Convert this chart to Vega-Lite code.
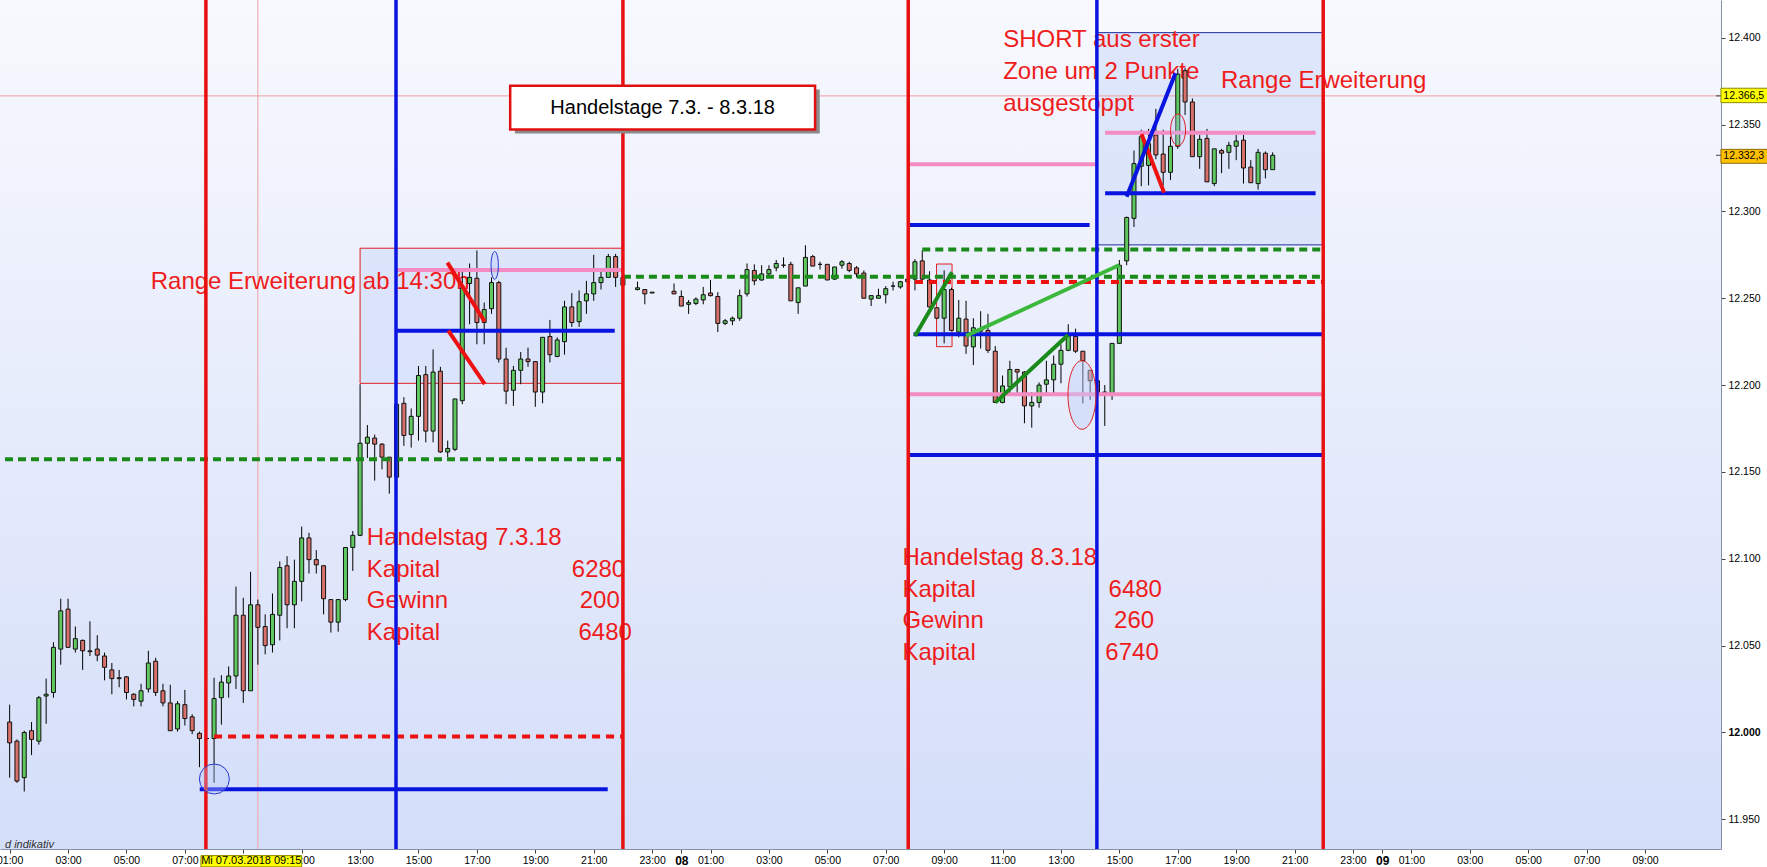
{
"$schema":"https://vega.github.io/schema/vega-lite/v6.json",
"width":1721,"height":849,
"autosize":{"type":"none"},
"padding":{"left":0,"top":0,"right":46,"bottom":18},
"background":"#ffffff",
"config":{"view":{"stroke":null,"fill":{"gradient":"linear","x1":0,"y1":0,"x2":0,"y2":1,"stops":[{"offset":0,"color":"#f8f9fe"},{"offset":1,"color":"#d4def9"}]}},"font":"Liberation Sans","axis":{"grid":false,"tickSize":4,"tickColor":"#404040","domainColor":"#8592a6","labelColor":"#000000","labelFont":"Liberation Sans","labelPadding":3}},
"datasets":{
"candles":[
{"t":1,"o":12006,"h":12016,"l":11974,"c":11994},
{"t":1.25,"o":11995,"h":11996,"l":11971,"c":11972},
{"t":1.5,"o":11974,"h":12001,"l":11966,"c":12000},
{"t":1.75,"o":12001,"h":12006,"l":11987,"c":11996},
{"t":2,"o":11995,"h":12021,"l":11993,"c":12020},
{"t":2.25,"o":12021,"h":12031,"l":12005,"c":12022},
{"t":2.5,"o":12023,"h":12052,"l":12020,"c":12049},
{"t":2.75,"o":12048,"h":12077,"l":12039,"c":12070},
{"t":3,"o":12071,"h":12077,"l":12049,"c":12049},
{"t":3.25,"o":12048,"h":12061,"l":12046,"c":12054},
{"t":3.5,"o":12053,"h":12053.5,"l":12036,"c":12047},
{"t":3.75,"o":12047,"h":12064,"l":12044,"c":12046.5},
{"t":4,"o":12048,"h":12056,"l":12041,"c":12044.5},
{"t":4.25,"o":12044,"h":12046,"l":12030,"c":12037.5},
{"t":4.5,"o":12036,"h":12040,"l":12022,"c":12031},
{"t":4.75,"o":12031.5,"h":12036,"l":12026,"c":12031},
{"t":5,"o":12032,"h":12032.5,"l":12019,"c":12023},
{"t":5.25,"o":12022,"h":12022.5,"l":12015,"c":12019},
{"t":5.5,"o":12018,"h":12028,"l":12015,"c":12024},
{"t":5.75,"o":12025,"h":12047,"l":12023,"c":12040},
{"t":6,"o":12041,"h":12043,"l":12021,"c":12023},
{"t":6.25,"o":12024,"h":12028,"l":12015,"c":12017},
{"t":6.5,"o":12017,"h":12027.5,"l":12001,"c":12001},
{"t":6.75,"o":12002,"h":12018,"l":12000.5,"c":12016.5},
{"t":7,"o":12016,"h":12024.5,"l":12004,"c":12008},
{"t":7.25,"o":12009,"h":12010.5,"l":11999,"c":12001},
{"t":7.5,"o":11999.5,"h":12000.5,"l":11980,"c":11996.5},
{"t":7.75,"o":11996.5,"h":11997,"l":11996,"c":11996.5},
{"t":8,"o":11996.5,"h":12031.5,"l":11971,"c":12019.5},
{"t":8.25,"o":12020,"h":12033,"l":12004.5,"c":12029},
{"t":8.5,"o":12028.5,"h":12038,"l":12020,"c":12032.5},
{"t":8.75,"o":12032.5,"h":12084,"l":12025,"c":12067.5},
{"t":9,"o":12067.5,"h":12077.5,"l":12017,"c":12024},
{"t":9.25,"o":12024,"h":12092.5,"l":12024,"c":12073.5},
{"t":9.5,"o":12073.5,"h":12076.5,"l":12039,"c":12060.5},
{"t":9.75,"o":12061,"h":12068,"l":12045,"c":12050},
{"t":10,"o":12050.5,"h":12080,"l":12046,"c":12068},
{"t":10.25,"o":12067.5,"h":12098.5,"l":12053,"c":12095},
{"t":10.5,"o":12096,"h":12101.5,"l":12060,"c":12073.5},
{"t":10.75,"o":12073.5,"h":12099.5,"l":12060,"c":12087},
{"t":11,"o":12087,"h":12118.5,"l":12075.5,"c":12112},
{"t":11.25,"o":12112,"h":12115,"l":12091.5,"c":12099.5},
{"t":11.5,"o":12099.5,"h":12105,"l":12091.5,"c":12096.5},
{"t":11.75,"o":12096,"h":12096,"l":12068,"c":12077},
{"t":12,"o":12076.5,"h":12076.5,"l":12057.5,"c":12063.5},
{"t":12.25,"o":12063.5,"h":12076.5,"l":12058,"c":12076.5},
{"t":12.5,"o":12076.5,"h":12106.5,"l":12075.5,"c":12106.5},
{"t":12.75,"o":12106.5,"h":12116,"l":12093,"c":12113.5},
{"t":13,"o":12113.5,"h":12200.5,"l":12113,"c":12166.5},
{"t":13.25,"o":12166.5,"h":12177,"l":12158,"c":12170},
{"t":13.5,"o":12169.5,"h":12171.5,"l":12145,"c":12166},
{"t":13.75,"o":12166,"h":12166.5,"l":12151.5,"c":12158.5},
{"t":14,"o":12158.5,"h":12158.5,"l":12137.5,"c":12147},
{"t":14.25,"o":12147,"h":12189,"l":12146,"c":12189},
{"t":14.5,"o":12189.5,"h":12193,"l":12165,"c":12171},
{"t":14.75,"o":12171.5,"h":12186.5,"l":12164,"c":12182},
{"t":15,"o":12182,"h":12211,"l":12168,"c":12205.5},
{"t":15.25,"o":12206,"h":12211,"l":12167,"c":12173.5},
{"t":15.5,"o":12173.5,"h":12220.5,"l":12167,"c":12207.5},
{"t":15.75,"o":12208,"h":12210.5,"l":12161,"c":12161.5},
{"t":16,"o":12161.5,"h":12168,"l":12158.5,"c":12163.5},
{"t":16.25,"o":12163,"h":12192,"l":12162,"c":12192},
{"t":16.5,"o":12191,"h":12266,"l":12189,"c":12256},
{"t":16.75,"o":12258.5,"h":12270,"l":12235,"c":12262},
{"t":17,"o":12261.5,"h":12277.5,"l":12223.5,"c":12236},
{"t":17.25,"o":12236,"h":12247.5,"l":12223.5,"c":12243.5},
{"t":17.5,"o":12244,"h":12262,"l":12241,"c":12259},
{"t":17.75,"o":12259,"h":12260,"l":12213,"c":12215},
{"t":18,"o":12215,"h":12221.5,"l":12189,"c":12196.5},
{"t":18.25,"o":12197,"h":12211,"l":12188,"c":12208.5},
{"t":18.5,"o":12208.5,"h":12219,"l":12200.5,"c":12215},
{"t":18.75,"o":12215,"h":12221.5,"l":12210.5,"c":12213.5},
{"t":19,"o":12213.5,"h":12213.5,"l":12187.5,"c":12196},
{"t":19.25,"o":12196,"h":12227.5,"l":12189.5,"c":12227.5},
{"t":19.5,"o":12228,"h":12237.5,"l":12213,"c":12217.5},
{"t":19.75,"o":12216.5,"h":12227.5,"l":12216,"c":12226},
{"t":20,"o":12225,"h":12248.5,"l":12217.5,"c":12245},
{"t":20.25,"o":12245,"h":12253,"l":12233.5,"c":12236},
{"t":20.5,"o":12236.5,"h":12254.5,"l":12233.5,"c":12248},
{"t":20.75,"o":12248.5,"h":12260,"l":12241,"c":12252.5},
{"t":21,"o":12252.5,"h":12275,"l":12248.5,"c":12259},
{"t":21.25,"o":12259,"h":12266,"l":12255,"c":12262},
{"t":21.5,"o":12262,"h":12275.5,"l":12262,"c":12274},
{"t":21.75,"o":12274,"h":12275.5,"l":12256.5,"c":12262},
{"t":22,"o":12262,"h":12264,"l":12255,"c":12257.5},
{"t":22.5,"o":12255,"h":12259.5,"l":12254.5,"c":12256},
{"t":22.75,"o":12255,"h":12255,"l":12246.5,"c":12252.5},
{"t":23,"o":12253,"h":12253.5,"l":12253,"c":12253.5},
{"t":23.75,"o":12254,"h":12258.5,"l":12252.5,"c":12252.5},
{"t":24,"o":12251,"h":12254.5,"l":12245.5,"c":12245.5},
{"t":24.25,"o":12246.5,"h":12249,"l":12241,"c":12247.5},
{"t":24.5,"o":12247,"h":12250.5,"l":12246,"c":12249.5},
{"t":24.75,"o":12249,"h":12256.5,"l":12246.5,"c":12252},
{"t":25,"o":12253,"h":12260.5,"l":12251,"c":12251.5},
{"t":25.25,"o":12251,"h":12253.5,"l":12230.5,"c":12235.5},
{"t":25.5,"o":12235.5,"h":12238,"l":12234.5,"c":12237},
{"t":25.75,"o":12237,"h":12239.5,"l":12234.5,"c":12238.5},
{"t":26,"o":12238.5,"h":12255,"l":12237,"c":12251.5},
{"t":26.25,"o":12252.5,"h":12270,"l":12251,"c":12266.5},
{"t":26.5,"o":12266,"h":12269.5,"l":12257.5,"c":12260},
{"t":26.75,"o":12260.5,"h":12269,"l":12260,"c":12264},
{"t":27,"o":12264,"h":12269,"l":12263,"c":12266.5},
{"t":27.25,"o":12267.5,"h":12272,"l":12265.5,"c":12270},
{"t":27.5,"o":12269,"h":12273.5,"l":12267.5,"c":12269},
{"t":27.75,"o":12269.5,"h":12271,"l":12248.5,"c":12248.5},
{"t":28,"o":12247.5,"h":12256,"l":12241,"c":12256},
{"t":28.25,"o":12257,"h":12280.5,"l":12257,"c":12273.5},
{"t":28.5,"o":12274,"h":12275,"l":12268.5,"c":12268.5},
{"t":28.75,"o":12269.5,"h":12271,"l":12266.5,"c":12269.5},
{"t":29,"o":12269.5,"h":12269.5,"l":12260.5,"c":12260.5},
{"t":29.25,"o":12261,"h":12268,"l":12260.5,"c":12268},
{"t":29.5,"o":12269,"h":12272,"l":12267,"c":12271},
{"t":29.75,"o":12270,"h":12271,"l":12265,"c":12266},
{"t":30,"o":12267.5,"h":12268.5,"l":12262,"c":12264},
{"t":30.25,"o":12264.5,"h":12266,"l":12250,"c":12250},
{"t":30.5,"o":12249.5,"h":12251.5,"l":12245.5,"c":12251.5},
{"t":30.75,"o":12250,"h":12255.5,"l":12250,"c":12251.5},
{"t":31,"o":12252,"h":12257,"l":12247,"c":12255.5},
{"t":31.25,"o":12257,"h":12259.5,"l":12254.5,"c":12257},
{"t":31.5,"o":12256.5,"h":12260,"l":12255.5,"c":12259.5},
{"t":31.75,"o":12259.5,"h":12262,"l":12258,"c":12261},
{"t":32,"o":12261,"h":12272.5,"l":12254.5,"c":12271},
{"t":32.25,"o":12271.5,"h":12277.5,"l":12260.5,"c":12261},
{"t":32.5,"o":12260.5,"h":12265.5,"l":12244,"c":12245},
{"t":32.75,"o":12244.5,"h":12244.5,"l":12238,"c":12238.5},
{"t":33,"o":12238.5,"h":12266,"l":12224,"c":12255},
{"t":33.25,"o":12255,"h":12256,"l":12231,"c":12231.5},
{"t":33.5,"o":12230.5,"h":12249,"l":12227.5,"c":12238.5},
{"t":33.75,"o":12238,"h":12248.5,"l":12218,"c":12222.5},
{"t":34,"o":12222,"h":12238.5,"l":12211.5,"c":12233},
{"t":34.25,"o":12232,"h":12242.5,"l":12221,"c":12231},
{"t":34.5,"o":12231.5,"h":12241,"l":12218.5,"c":12220},
{"t":34.75,"o":12219.5,"h":12222.5,"l":12190,"c":12190},
{"t":35,"o":12190,"h":12205.5,"l":12189.5,"c":12199.5},
{"t":35.25,"o":12199,"h":12214,"l":12194,"c":12209},
{"t":35.5,"o":12209,"h":12209,"l":12195,"c":12207.5},
{"t":35.75,"o":12207.5,"h":12208,"l":12178,"c":12188},
{"t":36,"o":12188,"h":12196,"l":12175.5,"c":12190},
{"t":36.25,"o":12190,"h":12201.5,"l":12187,"c":12200},
{"t":36.5,"o":12200.5,"h":12214,"l":12195,"c":12203},
{"t":36.75,"o":12203,"h":12217,"l":12195,"c":12212},
{"t":37,"o":12212,"h":12223.5,"l":12201,"c":12220},
{"t":37.25,"o":12220,"h":12235,"l":12219.5,"c":12228.5},
{"t":37.5,"o":12228,"h":12232.5,"l":12218.5,"c":12219.5},
{"t":37.75,"o":12219.5,"h":12219.5,"l":12189.5,"c":12214},
{"t":38,"o":12208.5,"h":12208.5,"l":12191.5,"c":12202.5},
{"t":38.25,"o":12202.5,"h":12203,"l":12192,"c":12195.5},
{"t":38.5,"o":12196,"h":12200,"l":12176.5,"c":12194.5},
{"t":38.75,"o":12194.5,"h":12224,"l":12191.5,"c":12224},
{"t":39,"o":12224,"h":12272,"l":12224,"c":12269},
{"t":39.25,"o":12271.5,"h":12297,"l":12269,"c":12296.5},
{"t":39.5,"o":12296,"h":12335,"l":12291,"c":12327.5},
{"t":39.75,"o":12326,"h":12347,"l":12314.5,"c":12343},
{"t":40,"o":12326.5,"h":12347.5,"l":12315,"c":12339},
{"t":40.25,"o":12344,"h":12359,"l":12330,"c":12332.5},
{"t":40.5,"o":12333,"h":12347,"l":12315,"c":12322.5},
{"t":40.75,"o":12322.5,"h":12343,"l":12318,"c":12337.5},
{"t":41,"o":12337.5,"h":12382,"l":12336,"c":12379},
{"t":41.25,"o":12381,"h":12382.5,"l":12355.5,"c":12363},
{"t":41.5,"o":12363,"h":12365,"l":12331.5,"c":12331.5},
{"t":41.75,"o":12331.5,"h":12344,"l":12324.5,"c":12341.5},
{"t":42,"o":12342,"h":12347.5,"l":12317,"c":12317},
{"t":42.25,"o":12316,"h":12336,"l":12314.5,"c":12336},
{"t":42.5,"o":12335,"h":12336,"l":12322,"c":12333.5},
{"t":42.75,"o":12334,"h":12340,"l":12324.5,"c":12338},
{"t":43,"o":12337.5,"h":12344,"l":12329.5,"c":12340.5},
{"t":43.25,"o":12341,"h":12344,"l":12316,"c":12325},
{"t":43.5,"o":12325.5,"h":12329.5,"l":12316.5,"c":12316.5},
{"t":43.75,"o":12316,"h":12336,"l":12312.5,"c":12334},
{"t":44,"o":12333.5,"h":12334.5,"l":12319,"c":12324},
{"t":44.25,"o":12324,"h":12334,"l":12324,"c":12332.3}
],
"rangeRed":[{"t1":13.0,"t2":22.0,"v1":12201.0,"v2":12278.8}],
"rangeBlue":[{"t1":38.23,"t2":45.98,"v1":12280.7,"v2":12402.9}],
"smallBox":[{"t1":32.74,"t2":33.27,"v1":12222.1,"v2":12269.7}],
"redTexts":[
{"t":5.83,"v":12259.5,"s":"Range Erweiterung ab 14:30h"},
{"t":13.23,"v":12112.0,"s":"Handelstag 7.3.18"},
{"t":13.23,"v":12093.6,"s":"Kapital"},
{"t":13.23,"v":12075.5,"s":"Gewinn"},
{"t":13.23,"v":12057.1,"s":"Kapital"},
{"t":20.25,"v":12093.6,"s":"6280"},
{"t":20.52,"v":12075.5,"s":"200"},
{"t":20.48,"v":12057.1,"s":"6480"},
{"t":31.57,"v":12100.4,"s":"Handelstag 8.3.18"},
{"t":31.57,"v":12082.2,"s":"Kapital"},
{"t":31.57,"v":12064.0,"s":"Gewinn"},
{"t":31.57,"v":12045.9,"s":"Kapital"},
{"t":38.63,"v":12082.2,"s":"6480"},
{"t":38.82,"v":12064.0,"s":"260"},
{"t":38.52,"v":12045.9,"s":"6740"},
{"t":35.02,"v":12398.9,"s":"SHORT aus erster"},
{"t":35.02,"v":12380.4,"s":"Zone um 2 Punkte"},
{"t":35.02,"v":12362.1,"s":"ausgestoppt"},
{"t":42.48,"v":12375.0,"s":"Range Erweiterung"}
],
"blueH":[
{"t1":7.51,"t2":21.48,"v":11967.3},
{"t1":14.23,"t2":21.72,"v":12231.3},
{"t1":31.8,"t2":37.98,"v":12292.2},
{"t1":31.95,"t2":45.98,"v":12229.2},
{"t1":31.77,"t2":45.98,"v":12159.8},
{"t1":38.51,"t2":45.72,"v":12310.4}
],
"pinkH":[
{"t1":14.23,"t2":22.0,"v":12266.3},
{"t1":31.77,"t2":38.23,"v":12327.1},
{"t1":38.51,"t2":45.72,"v":12345.3},
{"t1":31.77,"t2":45.98,"v":12194.7}
],
"greenD":[
{"t1":0.841,"t2":22.0,"v":12157.3},
{"t1":22.0,"t2":45.98,"v":12262.4},
{"t1":32.25,"t2":45.98,"v":12278.1}
],
"redD":[
{"t1":8.0,"t2":22.0,"v":11997.6},
{"t1":32.0,"t2":45.98,"v":12259.3}
],
"redV":[{"t":7.72},{"t":22.0},{"t":31.77},{"t":45.98}],
"blueV":[{"t":14.23},{"t":38.23}],
"redDiag":[
{"t1":15.99,"t2":17.27,"v1":12270.5,"v2":12236.5},
{"t1":16.02,"t2":17.27,"v1":12231.3,"v2":12200.6},
{"t1":39.76,"t2":40.53,"v1":12344.4,"v2":12310.8}
],
"blueDiag":[{"t1":39.25,"t2":40.92,"v1":12308.4,"v2":12379.5}],
"darkGreenDiag":[
{"t1":32.0,"t2":33.27,"v1":12228.3,"v2":12264.9},
{"t1":34.75,"t2":37.24,"v1":12189.9,"v2":12228.8}
],
"lightGreenDiag":[{"t1":33.75,"t2":39.0,"v1":12228.3,"v2":12269.1}]
},
"layer":[
{"data":{"name":"rangeRed"},"mark":{"type":"rect","fill":"#d6e0f9","fillOpacity":0.75,"stroke":"#e02020","strokeWidth":1},
"encoding":{
"x":{"field":"t1","type":"quantitative","scale":{"domain":[0.841,59.43],"nice":false,"zero":false},
"axis":{"title":null,"grid":false,"orient":"bottom","values":[1,3,5,7,9,11,13,15,17,19,21,23,24,25,27,29,31,33,35,37,39,41,43,45,47,48,49,51,53,55,57],
"labelExpr":"datum.value == 24 ? '08' : datum.value == 48 ? '09' : ((datum.value % 24) < 10 ? '0' : '') + (datum.value % 24) + ':00'",
"labelFontWeight":{"condition":{"test":"datum.value == 24 || datum.value == 48","value":"bold"},"value":"normal"},
"labelFontSize":{"condition":{"test":"datum.value == 24 || datum.value == 48","value":12},"value":10.5},
"labelOverlap":false,"labelBound":false,"labelFlush":false,"labelPadding":2,"tickSize":4,"tickColor":"#404040","domainColor":"#8592a6","labelColor":"#000000","labelFont":"Liberation Sans"}},
"x2":{"field":"t2"},
"y":{"field":"v1","type":"quantitative","scale":{"domain":[11932.9,12421.7],"nice":false,"zero":false},
"axis":{"orient":"right","title":null,"grid":false,"values":[11950,12000,12050,12100,12150,12200,12250,12300,12350,12400],
"labelExpr":"replace(format(datum.value, ','), ',', '.')",
"labelFontWeight":{"condition":{"test":"datum.value == 12000","value":"bold"},"value":"normal"},
"labelFontSize":10.5,"labelPadding":3,"tickSize":4,"tickColor":"#404040","domainColor":"#8592a6","labelColor":"#000000","labelFont":"Liberation Sans","labelOverlap":false,"labelBound":false}},
"y2":{"field":"v2"}}},
{"data":{"name":"rangeBlue"},"mark":{"type":"rect","fill":"#d6e0f9","fillOpacity":0.75,"stroke":"#1c2ca0","strokeWidth":1},
"encoding":{"x":{"field":"t1","type":"quantitative","scale":{"domain":[0.841,59.43],"nice":false,"zero":false},"title":null},"x2":{"field":"t2"},
"y":{"field":"v1","type":"quantitative","scale":{"domain":[11932.9,12421.7],"nice":false,"zero":false},"title":null},"y2":{"field":"v2"}}},
{"data":{"name":"smallBox"},"mark":{"type":"rect","fill":"#d6e0f9","fillOpacity":0.75,"stroke":"#e02020","strokeWidth":1},
"encoding":{"x":{"field":"t1","type":"quantitative","scale":{"domain":[0.841,59.43],"nice":false,"zero":false},"title":null},"x2":{"field":"t2"},
"y":{"field":"v1","type":"quantitative","scale":{"domain":[11932.9,12421.7],"nice":false,"zero":false},"title":null},"y2":{"field":"v2"}}},
{"data":{"values":[{"t":9.5}]},"mark":{"type":"rule","color":"#f0a0a0","strokeWidth":1},
"encoding":{"x":{"field":"t","type":"quantitative","scale":{"domain":[0.841,59.43],"nice":false,"zero":false},"title":null}}},
{"data":{"values":[{"v":12366.5}]},"mark":{"type":"rule","color":"#f0a0a0","strokeWidth":1},
"encoding":{"y":{"field":"v","type":"quantitative","scale":{"domain":[11932.9,12421.7],"nice":false,"zero":false},"title":null}}},
{"data":{"name":"redTexts"},"mark":{"type":"text","align":"left","baseline":"middle","fontSize":24,"color":"#ee1c1c","font":"Liberation Sans"},
"encoding":{"x":{"field":"t","type":"quantitative","scale":{"domain":[0.841,59.43],"nice":false,"zero":false},"title":null},
"y":{"field":"v","type":"quantitative","scale":{"domain":[11932.9,12421.7],"nice":false,"zero":false},"title":null},"text":{"field":"s"}}},
{"data":{"values":[{"t":0.841,"v":11935.3,"s":"d indikativ"}]},"mark":{"type":"text","align":"left","baseline":"middle","fontSize":11,"fontStyle":"italic","color":"#303030","font":"Liberation Sans"},
"encoding":{"x":{"field":"t","type":"quantitative","scale":{"domain":[0.841,59.43],"nice":false,"zero":false},"title":null},
"y":{"field":"v","type":"quantitative","scale":{"domain":[11932.9,12421.7],"nice":false,"zero":false},"title":null},"text":{"field":"s"}}},
{"data":{"name":"candles"},"mark":{"type":"rule","color":"#000000","strokeWidth":1},
"encoding":{"x":{"field":"t","type":"quantitative","scale":{"domain":[0.841,59.43],"nice":false,"zero":false},"title":null},
"y":{"field":"l","type":"quantitative","scale":{"domain":[11932.9,12421.7],"nice":false,"zero":false},"title":null},"y2":{"field":"h"}}},
{"data":{"name":"candles"},"mark":{"type":"bar","width":4,"stroke":"#111111","strokeWidth":1},
"encoding":{"x":{"field":"t","type":"quantitative","scale":{"domain":[0.841,59.43],"nice":false,"zero":false},"title":null},
"y":{"field":"o","type":"quantitative","scale":{"domain":[11932.9,12421.7],"nice":false,"zero":false},"title":null},"y2":{"field":"c"},
"fill":{"condition":{"test":"datum.c >= datum.o","value":"#5fc85f"},"value":"#d8716b"}}},
{"data":{"name":"greenD"},"mark":{"type":"rule","color":"#1a8a1a","strokeWidth":4,"strokeDash":[8,5]},
"encoding":{"x":{"field":"t1","type":"quantitative","scale":{"domain":[0.841,59.43],"nice":false,"zero":false},"title":null},"x2":{"field":"t2"},
"y":{"field":"v","type":"quantitative","scale":{"domain":[11932.9,12421.7],"nice":false,"zero":false},"title":null}}},
{"data":{"name":"redD"},"mark":{"type":"rule","color":"#ee1111","strokeWidth":4,"strokeDash":[8,6]},
"encoding":{"x":{"field":"t1","type":"quantitative","scale":{"domain":[0.841,59.43],"nice":false,"zero":false},"title":null},"x2":{"field":"t2"},
"y":{"field":"v","type":"quantitative","scale":{"domain":[11932.9,12421.7],"nice":false,"zero":false},"title":null}}},
{"data":{"name":"pinkH"},"mark":{"type":"rule","color":"#f48cc4","strokeWidth":4},
"encoding":{"x":{"field":"t1","type":"quantitative","scale":{"domain":[0.841,59.43],"nice":false,"zero":false},"title":null},"x2":{"field":"t2"},
"y":{"field":"v","type":"quantitative","scale":{"domain":[11932.9,12421.7],"nice":false,"zero":false},"title":null}}},
{"data":{"name":"blueH"},"mark":{"type":"rule","color":"#0a14e0","strokeWidth":4},
"encoding":{"x":{"field":"t1","type":"quantitative","scale":{"domain":[0.841,59.43],"nice":false,"zero":false},"title":null},"x2":{"field":"t2"},
"y":{"field":"v","type":"quantitative","scale":{"domain":[11932.9,12421.7],"nice":false,"zero":false},"title":null}}},
{"data":{"name":"redV"},"mark":{"type":"rule","color":"#e81010","strokeWidth":3.5},
"encoding":{"x":{"field":"t","type":"quantitative","scale":{"domain":[0.841,59.43],"nice":false,"zero":false},"title":null}}},
{"data":{"name":"blueV"},"mark":{"type":"rule","color":"#0a14e0","strokeWidth":3.5},
"encoding":{"x":{"field":"t","type":"quantitative","scale":{"domain":[0.841,59.43],"nice":false,"zero":false},"title":null}}},
{"data":{"name":"redDiag"},"mark":{"type":"rule","color":"#ee1111","strokeWidth":4},
"encoding":{"x":{"field":"t1","type":"quantitative","scale":{"domain":[0.841,59.43],"nice":false,"zero":false},"title":null},"x2":{"field":"t2"},
"y":{"field":"v1","type":"quantitative","scale":{"domain":[11932.9,12421.7],"nice":false,"zero":false},"title":null},"y2":{"field":"v2"}}},
{"data":{"name":"blueDiag"},"mark":{"type":"rule","color":"#0a14e0","strokeWidth":4},
"encoding":{"x":{"field":"t1","type":"quantitative","scale":{"domain":[0.841,59.43],"nice":false,"zero":false},"title":null},"x2":{"field":"t2"},
"y":{"field":"v1","type":"quantitative","scale":{"domain":[11932.9,12421.7],"nice":false,"zero":false},"title":null},"y2":{"field":"v2"}}},
{"data":{"name":"darkGreenDiag"},"mark":{"type":"rule","color":"#1a8a1a","strokeWidth":4},
"encoding":{"x":{"field":"t1","type":"quantitative","scale":{"domain":[0.841,59.43],"nice":false,"zero":false},"title":null},"x2":{"field":"t2"},
"y":{"field":"v1","type":"quantitative","scale":{"domain":[11932.9,12421.7],"nice":false,"zero":false},"title":null},"y2":{"field":"v2"}}},
{"data":{"name":"lightGreenDiag"},"mark":{"type":"rule","color":"#3cb83c","strokeWidth":4},
"encoding":{"x":{"field":"t1","type":"quantitative","scale":{"domain":[0.841,59.43],"nice":false,"zero":false},"title":null},"x2":{"field":"t2"},
"y":{"field":"v1","type":"quantitative","scale":{"domain":[11932.9,12421.7],"nice":false,"zero":false},"title":null},"y2":{"field":"v2"}}},
{"data":{"values":[{"t":8.01,"v":11973.2}]},"mark":{"type":"point","shape":"circle","size":900,"filled":true,"opacity":1,"fill":"#b8c8f8","fillOpacity":0.35,"stroke":"#2838d0","strokeWidth":1},
"encoding":{"x":{"field":"t","type":"quantitative","scale":{"domain":[0.841,59.43],"nice":false,"zero":false},"title":null},
"y":{"field":"v","type":"quantitative","scale":{"domain":[11932.9,12421.7],"nice":false,"zero":false},"title":null}}},
{"data":{"values":[{"t":17.61,"v":12268.9}]},"mark":{"type":"point","shape":"M0,-1A0.264,1 0 1,1 0,1A0.264,1 0 1,1 0,-1Z","size":767,"filled":true,"opacity":1,"fill":"#b8c8f8","fillOpacity":0.35,"stroke":"#2838d0","strokeWidth":1},
"encoding":{"x":{"field":"t","type":"quantitative","scale":{"domain":[0.841,59.43],"nice":false,"zero":false},"title":null},
"y":{"field":"v","type":"quantitative","scale":{"domain":[11932.9,12421.7],"nice":false,"zero":false},"title":null}}},
{"data":{"values":[{"t":37.72,"v":12194.3}]},"mark":{"type":"point","shape":"M0,-1A0.408,1 0 1,1 0,1A0.408,1 0 1,1 0,-1Z","size":4706,"filled":true,"opacity":1,"fill":"#c0d0f8","fillOpacity":0.45,"stroke":"#e02020","strokeWidth":1},
"encoding":{"x":{"field":"t","type":"quantitative","scale":{"domain":[0.841,59.43],"nice":false,"zero":false},"title":null},
"y":{"field":"v","type":"quantitative","scale":{"domain":[11932.9,12421.7],"nice":false,"zero":false},"title":null}}},
{"data":{"values":[{"t":41.01,"v":12346.9}]},"mark":{"type":"point","shape":"M0,-1A0.473,1 0 1,1 0,1A0.473,1 0 1,1 0,-1Z","size":1005,"filled":true,"opacity":1,"fill":"#c0d0f8","fillOpacity":0.3,"stroke":"#e02020","strokeWidth":1},
"encoding":{"x":{"field":"t","type":"quantitative","scale":{"domain":[0.841,59.43],"nice":false,"zero":false},"title":null},
"y":{"field":"v","type":"quantitative","scale":{"domain":[11932.9,12421.7],"nice":false,"zero":false},"title":null}}},
{"data":{"values":[{"t1":18.3,"t2":28.74,"v1":12344.8,"v2":12370.1}]},"mark":{"type":"rect","fill":"#8a8a8a"},
"encoding":{"x":{"field":"t1","type":"quantitative","scale":{"domain":[0.841,59.43],"nice":false,"zero":false},"title":null},"x2":{"field":"t2"},
"y":{"field":"v1","type":"quantitative","scale":{"domain":[11932.9,12421.7],"nice":false,"zero":false},"title":null},"y2":{"field":"v2"}}},
{"data":{"values":[{"t1":18.14,"t2":28.58,"v1":12347.1,"v2":12372.4}]},"mark":{"type":"rect","fill":"#ffffff","stroke":"#e01010","strokeWidth":2.5},
"encoding":{"x":{"field":"t1","type":"quantitative","scale":{"domain":[0.841,59.43],"nice":false,"zero":false},"title":null},"x2":{"field":"t2"},
"y":{"field":"v1","type":"quantitative","scale":{"domain":[11932.9,12421.7],"nice":false,"zero":false},"title":null},"y2":{"field":"v2"}}},
{"data":{"values":[{"t":23.36,"v":12359.8,"s":"Handelstage 7.3. - 8.3.18"}]},"mark":{"type":"text","align":"center","baseline":"middle","fontSize":20,"color":"#000000","font":"Liberation Sans"},
"encoding":{"x":{"field":"t","type":"quantitative","scale":{"domain":[0.841,59.43],"nice":false,"zero":false},"title":null},
"y":{"field":"v","type":"quantitative","scale":{"domain":[11932.9,12421.7],"nice":false,"zero":false},"title":null},"text":{"field":"s"}}},
{"data":{"values":[{"t1":7.55,"t2":11.0,"v1":11922.6,"v2":11929.1}]},"mark":{"type":"rect","fill":"#ffff00","stroke":"#8a8a00","strokeWidth":1},
"encoding":{"x":{"field":"t1","type":"quantitative","scale":{"domain":[0.841,59.43],"nice":false,"zero":false},"title":null},"x2":{"field":"t2"},
"y":{"field":"v1","type":"quantitative","scale":{"domain":[11932.9,12421.7],"nice":false,"zero":false},"title":null},"y2":{"field":"v2"}}},
{"data":{"values":[{"t":9.275,"v":11925.8,"s":"Mi 07.03.2018 09:15"}]},"mark":{"type":"text","align":"center","baseline":"middle","fontSize":11,"color":"#000000","font":"Liberation Sans"},
"encoding":{"x":{"field":"t","type":"quantitative","scale":{"domain":[0.841,59.43],"nice":false,"zero":false},"title":null},
"y":{"field":"v","type":"quantitative","scale":{"domain":[11932.9,12421.7],"nice":false,"zero":false},"title":null},"text":{"field":"s"}}},
{"data":{"values":[{"t1":59.43,"t2":59.6,"v":12366.5},{"t1":59.43,"t2":59.6,"v":12332.3}]},"mark":{"type":"rule","color":"#404040","strokeWidth":1},
"encoding":{"x":{"field":"t1","type":"quantitative","scale":{"domain":[0.841,59.43],"nice":false,"zero":false},"title":null},"x2":{"field":"t2"},
"y":{"field":"v","type":"quantitative","scale":{"domain":[11932.9,12421.7],"nice":false,"zero":false},"title":null}}},
{"data":{"values":[{"t1":59.6,"t2":61.3,"v1":12362.6,"v2":12370.9}]},"mark":{"type":"rect","fill":"#ffff00","stroke":"#8a8a00","strokeWidth":1},
"encoding":{"x":{"field":"t1","type":"quantitative","scale":{"domain":[0.841,59.43],"nice":false,"zero":false},"title":null},"x2":{"field":"t2"},
"y":{"field":"v1","type":"quantitative","scale":{"domain":[11932.9,12421.7],"nice":false,"zero":false},"title":null},"y2":{"field":"v2"}}},
{"data":{"values":[{"t1":59.6,"t2":61.3,"v1":12327.7,"v2":12335.7}]},"mark":{"type":"rect","fill":"#ffc000","stroke":"#8a6a00","strokeWidth":1},
"encoding":{"x":{"field":"t1","type":"quantitative","scale":{"domain":[0.841,59.43],"nice":false,"zero":false},"title":null},"x2":{"field":"t2"},
"y":{"field":"v1","type":"quantitative","scale":{"domain":[11932.9,12421.7],"nice":false,"zero":false},"title":null},"y2":{"field":"v2"}}},
{"data":{"values":[{"t":59.68,"v":12366.7,"s":"12.366,5"},{"t":59.68,"v":12331.7,"s":"12.332,3"}]},"mark":{"type":"text","align":"left","baseline":"middle","fontSize":10.5,"color":"#000000","font":"Liberation Sans"},
"encoding":{"x":{"field":"t","type":"quantitative","scale":{"domain":[0.841,59.43],"nice":false,"zero":false},"title":null},
"y":{"field":"v","type":"quantitative","scale":{"domain":[11932.9,12421.7],"nice":false,"zero":false},"title":null},"text":{"field":"s"}}}
]
}
